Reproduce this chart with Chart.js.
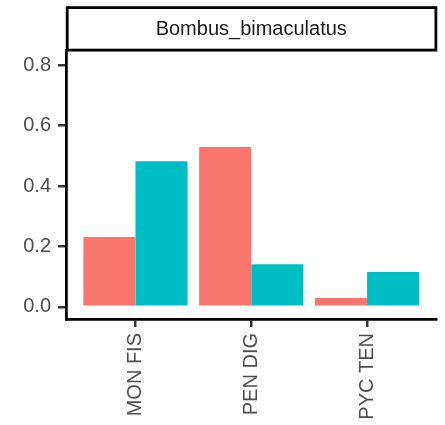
<!DOCTYPE html>
<html>
<head>
<meta charset="utf-8">
<script src="https://cdn.jsdelivr.net/npm/chart.js@4/dist/chart.umd.min.js"></script>
<style>
  html, body { margin: 0; padding: 0; background: #ffffff; }
  #wrap { width: 445px; height: 425px; }
</style>
</head>
<body>
<div id="wrap"><canvas id="c" width="445" height="425"></canvas></div>
<script>
// Panel data: proportions for two groups across three plant taxa
const panelTitle = 'Bombus_bimaculatus';
const categories = ['MON FIS', 'PEN DIG', 'PYC TEN'];
const seriesA = [0.231, 0.529, 0.029];
const seriesB = [0.482, 0.141, 0.115];
const yTicks = [0, 0.2, 0.4, 0.6, 0.8];

const FONT = "'Liberation Sans', Arial, Helvetica, sans-serif";
const colorA = '#F8766D';
const colorB = '#00BFC4';

// Categories sit at 1..n on a linear axis with 0.6 units of padding each side
const toPoints = vals => categories.map((c, i) => ({ x: i + 1, y: vals[i] }));

// Bordered strip behind the panel title
const stripBox = {
  id: 'stripBox',
  beforeDraw(chart) {
    const { ctx, chartArea } = chart;
    ctx.save();
    ctx.fillStyle = '#ffffff';
    ctx.fillRect(0, 0, chart.width, chart.height);
    ctx.strokeStyle = '#000000';
    ctx.lineWidth = 2.8;
    const x0 = chartArea.left + 1.2;
    const x1 = chartArea.right - 0.6;
    const y0 = 7.6;
    const y1 = chartArea.top - 0.4;
    ctx.strokeRect(x0, y0, x1 - x0, y1 - y0);
    ctx.restore();
  }
};

new Chart(document.getElementById('c'), {
  type: 'bar',
  data: {
    datasets: [
      { data: toPoints(seriesA), backgroundColor: colorA, borderWidth: 0,
        categoryPercentage: 0.9, barPercentage: 1.0 },
      { data: toPoints(seriesB), backgroundColor: colorB, borderWidth: 0,
        categoryPercentage: 0.9, barPercentage: 1.0 }
    ]
  },
  options: {
    responsive: false,
    devicePixelRatio: 1,
    animation: false,
    layout: { padding: { left: 0, right: 8.5, top: 0, bottom: 0 } },
    plugins: {
      legend: { display: false },
      tooltip: { enabled: false },
      title: {
        display: true,
        text: panelTitle,
        fullSize: false,
        color: '#1A1A1A',
        font: { family: FONT, size: 20, weight: 'normal', lineHeight: 1.2 },
        padding: { top: 17.5, bottom: 9 }
      }
    },
    scales: {
      x: {
        type: 'linear',
        min: 0.4,
        max: 3.6,
        offset: false,
        afterBuildTicks(scale) {
          scale.ticks = categories.map((c, i) => ({ value: i + 1 }));
        },
        afterFit(scale) { scale.height = 106; },
        grid: { display: true, offset: false, drawOnChartArea: false, drawTicks: true,
                tickLength: 8, color: '#333333', lineWidth: 2.5 },
        border: { display: true, color: '#000000', width: 2.8 },
        ticks: {
          autoSkip: false,
          minRotation: 90,
          maxRotation: 90,
          padding: 6,
          color: '#4D4D4D',
          font: { family: FONT, size: 20 },
          callback: v => categories[Math.round(v) - 1]
        }
      },
      y: {
        type: 'linear',
        min: -0.0404,
        max: 0.8486,
        afterBuildTicks(scale) {
          scale.ticks = yTicks.map(v => ({ value: v }));
        },
        afterFit(scale) { scale.width = 66; },
        grid: { display: true, drawOnChartArea: false, drawTicks: true,
                tickLength: 8, color: '#333333', lineWidth: 2.5 },
        border: { display: true, color: '#000000', width: 2.8 },
        ticks: {
          padding: 7,
          color: '#4D4D4D',
          font: { family: FONT, size: 20 },
          callback: v => v.toFixed(1)
        }
      }
    }
  },
  plugins: [stripBox]
});
</script>
</body>
</html>
